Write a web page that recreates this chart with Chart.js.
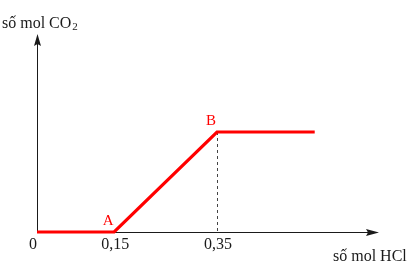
<!DOCTYPE html>
<html>
<head>
<meta charset="utf-8">
<script src="https://cdn.jsdelivr.net/npm/chart.js@4"></script>
<style>
  html, body { margin: 0; padding: 0; background: #fff; }
  canvas { display: block; }
</style>
</head>
<body>
<canvas id="c" width="413" height="267"></canvas>
<script>
'use strict';

// ── data ────────────────────────────────────────────
const hclMol = [0, 0.15, 0.35, 0.54];
const co2Mol = [0, 0, 0.2, 0.2];
const pointNames = ['', 'A', 'B', ''];
const xTicks = [0, 0.15, 0.35];
const xTitle = 'số mol HCl';
const yTitle = 'số mol CO';
const yTitleSub = '2';

const RED = '#ff0000';
const INK = '#1a1a1a';
const SERIF = "'Liberation Serif','Times New Roman',serif";

function arrow(ctx, x, y, dir) {
  // dir: 'up' or 'right'; tip at (x,y)
  ctx.beginPath();
  if (dir === 'up') {
    ctx.moveTo(x, y);
    ctx.lineTo(x - 3.5, y + 12);
    ctx.lineTo(x, y + 10);
    ctx.lineTo(x + 3.5, y + 12);
  } else {
    ctx.moveTo(x, y);
    ctx.lineTo(x - 13, y - 3.5);
    ctx.lineTo(x - 11, y);
    ctx.lineTo(x - 13, y + 3.5);
  }
  ctx.closePath();
  ctx.fill();
}

const axesPlugin = {
  id: 'axes',
  beforeDatasetsDraw(chart) {
    const { ctx, chartArea, scales: { x, y } } = chart;
    const x0 = x.getPixelForValue(0);
    const y0 = y.getPixelForValue(0);
    ctx.save();
    ctx.strokeStyle = INK;
    ctx.fillStyle = INK;
    ctx.lineWidth = 1;
    ctx.beginPath();
    ctx.moveTo(x0 + 0.5, y0);
    ctx.lineTo(x0 + 0.5, chartArea.top + 4);
    ctx.moveTo(x0, y0 + 0.5);
    ctx.lineTo(chartArea.right - 4, y0 + 0.5);
    ctx.stroke();
    arrow(ctx, x0 + 0.5, chartArea.top, 'up');
    arrow(ctx, chartArea.right, y0 + 0.5, 'right');

    // dashed drop line from B
    const iB = pointNames.indexOf('B');
    const bx = Math.round(x.getPixelForValue(hclMol[iB])) + 0.5;
    ctx.strokeStyle = '#444';
    ctx.setLineDash([3, 3]);
    ctx.beginPath();
    ctx.moveTo(bx, y.getPixelForValue(co2Mol[iB]));
    ctx.lineTo(bx, y0);
    ctx.stroke();
    ctx.restore();
  },
  afterDatasetsDraw(chart) {
    const { ctx, scales: { x, y } } = chart;
    const y0 = y.getPixelForValue(0);
    ctx.save();
    ctx.textBaseline = 'alphabetic';

    // tick labels
    ctx.fillStyle = INK;
    ctx.font = '16px ' + SERIF;
    xTicks.forEach(v => {
      const px = x.getPixelForValue(v);
      const txt = String(v).replace('.', ',');
      ctx.textAlign = v === 0 ? 'right' : 'center';
      ctx.fillText(txt, v === 0 ? px : px + 1, y0 + 17);
    });

    // point names
    ctx.fillStyle = RED;
    ctx.font = '15px ' + SERIF;
    ctx.textAlign = 'center';
    pointNames.forEach((n, i) => {
      if (!n) return;
      const px = x.getPixelForValue(hclMol[i]);
      const py = y.getPixelForValue(co2Mol[i]);
      ctx.fillText(n, px - 6, py - 7);
    });

    // axis titles
    ctx.fillStyle = INK;
    ctx.textAlign = 'left';
    ctx.font = '16px ' + SERIF;
    ctx.fillText(xTitle, 333, 261);
    ctx.fillText(yTitle, 2, 28);
    const w = ctx.measureText(yTitle).width;
    ctx.font = '11px ' + SERIF;
    ctx.fillText(yTitleSub, 2 + w + 1, 30);
    ctx.restore();
  }
};

new Chart(document.getElementById('c'), {
  type: 'line',
  data: {
    datasets: [{
      data: hclMol.map((v, i) => ({ x: v, y: co2Mol[i] })),
      borderColor: RED,
      borderWidth: 3.2,
      pointRadius: 0,
      tension: 0,
      clip: false,
      borderCapStyle: 'butt',
      borderJoinStyle: 'miter'
    }]
  },
  options: {
    responsive: false,
    animation: false,
    layout: { padding: { left: 37, right: 34, top: 34, bottom: 35 } },
    scales: {
      x: { type: 'linear', display: false, min: 0, max: 0.665 },
      y: { type: 'linear', display: false, min: 0, max: 0.396 }
    },
    plugins: {
      legend: { display: false },
      tooltip: { enabled: false }
    }
  },
  plugins: [axesPlugin]
});
</script>
</body>
</html>
